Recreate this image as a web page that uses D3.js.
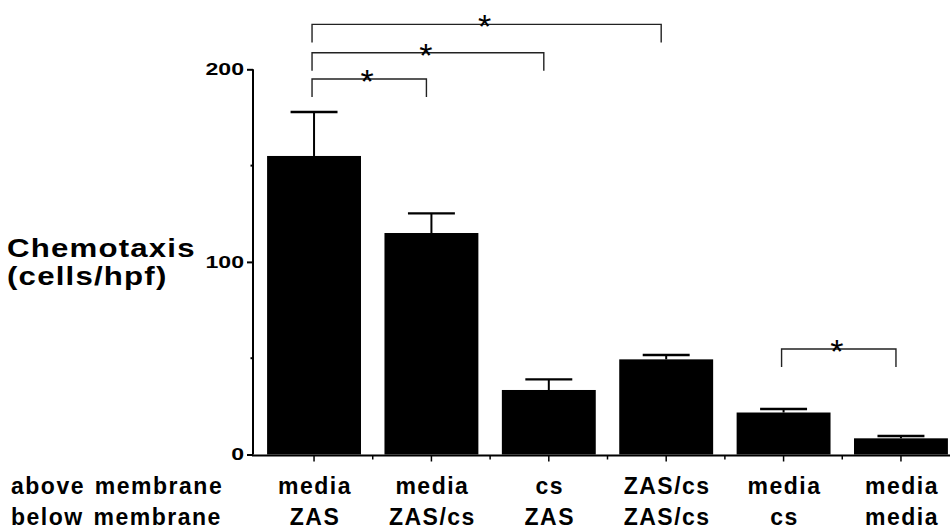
<!DOCTYPE html>
<html>
<head>
<meta charset="utf-8">
<script src="https://cdn.jsdelivr.net/npm/d3@7/dist/d3.min.js"></script>
<style>
  html, body { margin: 0; padding: 0; background: #fff; }
  svg { display: block; }
  text { font-family: "Liberation Sans", Arial, sans-serif; }
</style>
</head>
<body>
<svg id="chart" width="950" height="532"></svg>
<script>
// ---- data ----
const aboveMembrane = ["media", "media", "cs", "ZAS/cs", "media", "media"];
const belowMembrane = ["ZAS", "ZAS/cs", "ZAS", "ZAS/cs", "cs", "media"];
const chemotaxis = [155, 115, 33.5, 49.4, 21.8, 8.4];
const errorTop = [177.8, 125.2, 39, 51.7, 23.6, 9.6];
const yTicks = [0, 100, 200];
const yMinorTicks = [50, 150];
const brackets = [
  { from: 0, to: 1, level: 195 },
  { from: 0, to: 2, level: 208.6 },
  { from: 0, to: 3, level: 223.3 },
  { from: 4, to: 5, level: 54.8 }
];
const rowLabels = ["above membrane", "below membrane"];
const yTitle = ["Chemotaxis", "(cells/hpf)"];

// ---- layout ----
const svg = d3.select("#chart");
const axisX = 253;
const x = d3.scaleBand()
  .domain(d3.range(chemotaxis.length))
  .range([axisX, 962])
  .paddingInner(0.2)
  .paddingOuter(0.12);
const y = d3.scaleLinear().domain([0, 200]).range([454.5, 69.3]);
const cx = i => x(i) + x.bandwidth() / 2;

// bars
svg.append("g").selectAll("rect")
  .data(chemotaxis)
  .join("rect")
  .attr("x", (d, i) => x(i))
  .attr("y", d => y(d))
  .attr("width", x.bandwidth())
  .attr("height", d => y(0) - y(d))
  .attr("fill", "#000");

// error bars
const eb = svg.append("g").attr("stroke", "#000");
eb.selectAll("line.stem")
  .data(errorTop)
  .join("line")
  .attr("class", "stem")
  .attr("x1", (d, i) => cx(i)).attr("x2", (d, i) => cx(i))
  .attr("y1", (d, i) => y(chemotaxis[i])).attr("y2", d => y(d))
  .attr("stroke-width", 2);
eb.selectAll("line.cap")
  .data(errorTop)
  .join("line")
  .attr("class", "cap")
  .attr("x1", (d, i) => cx(i) - x.bandwidth() * 0.25)
  .attr("x2", (d, i) => cx(i) + x.bandwidth() * 0.25)
  .attr("y1", d => y(d)).attr("y2", d => y(d))
  .attr("stroke-width", 2.4);

// y axis
const yAxis = d3.axisLeft(y).tickValues(yTicks).tickSize(6).tickFormat("");
const gy = svg.append("g").attr("transform", `translate(${axisX},0)`).call(yAxis);
gy.select(".domain").attr("stroke-width", 2).attr("d", `M0,${y(200)}V${y(0)}`);
gy.selectAll(".tick line").attr("stroke-width", 2);
gy.selectAll(".tick text").remove();
gy.append("g").selectAll("line")
  .data(yMinorTicks)
  .join("line")
  .attr("x1", -2.5).attr("x2", 0)
  .attr("y1", d => y(d)).attr("y2", d => y(d))
  .attr("stroke", "#000").attr("stroke-width", 2);
svg.append("g").selectAll("text")
  .data(yTicks)
  .join("text")
  .attr("transform", d => `translate(${axisX - 9},${y(d)}) scale(1.4,1)`)
  .attr("dy", "0.36em")
  .attr("text-anchor", "end")
  .attr("font-size", 16.5).attr("font-weight", "bold").attr("fill", "#000")
  .text(d => d3.format("d")(d));

// x axis
const gx = svg.append("g");
gx.append("line")
  .attr("x1", axisX - 1).attr("x2", x.range()[1])
  .attr("y1", y(0) + 1).attr("y2", y(0) + 1)
  .attr("stroke", "#000").attr("stroke-width", 2);
gx.selectAll("line.major")
  .data(d3.range(chemotaxis.length))
  .join("line")
  .attr("class", "major")
  .attr("x1", cx).attr("x2", cx)
  .attr("y1", y(0) + 1).attr("y2", y(0) + 7)
  .attr("stroke", "#000").attr("stroke-width", 1.5);
gx.selectAll("line.minor")
  .data(d3.range(1, chemotaxis.length))
  .join("line")
  .attr("class", "minor")
  .attr("x1", i => x(i) - x.step() * x.paddingInner() / 2)
  .attr("x2", i => x(i) - x.step() * x.paddingInner() / 2)
  .attr("y1", y(0) + 1).attr("y2", y(0) + 5)
  .attr("stroke", "#000").attr("stroke-width", 1.5);

// category labels
const labStyle = sel => sel
  .attr("font-size", 23).attr("font-weight", "bold")
  .attr("letter-spacing", 1.5)
  .attr("text-anchor", "middle").attr("fill", "#000");
svg.append("g").selectAll("text")
  .data(aboveMembrane)
  .join("text")
  .attr("x", (d, i) => cx(i) + 1).attr("y", 494)
  .text(d => d).call(labStyle);
svg.append("g").selectAll("text")
  .data(belowMembrane)
  .join("text")
  .attr("x", (d, i) => cx(i) + 1).attr("y", 525)
  .text(d => d).call(labStyle);

// row labels
svg.append("g").selectAll("text")
  .data(rowLabels)
  .join("text")
  .attr("x", 11).attr("y", (d, i) => 494 + i * 31)
  .attr("font-size", 23).attr("font-weight", "bold")
  .attr("letter-spacing", 1.5).attr("word-spacing", 2).attr("fill", "#000")
  .text(d => d);

// y title
svg.append("g").selectAll("text")
  .data(yTitle)
  .join("text")
  .attr("transform", (d, i) => `translate(7,${257 + i * 28}) scale(1.2,1)`)
  .attr("font-size", 26).attr("font-weight", "bold")
  .attr("letter-spacing", 1).attr("fill", "#000")
  .text(d => d);

// significance brackets
const bg = svg.append("g");
brackets.forEach(b => {
  const x1 = cx(b.from) - 2, x2 = cx(b.to) - 5, yl = y(b.level);
  bg.append("path")
    .attr("d", `M${x1},${yl + 18}V${yl}H${x2}V${yl + 18}`)
    .attr("fill", "none").attr("stroke", "#222").attr("stroke-width", 1.4);
  bg.append("text")
    .attr("x", (x1 + x2) / 2 - 2).attr("y", yl + 14)
    .attr("text-anchor", "middle")
    .attr("font-family", "DejaVu Sans, sans-serif")
    .attr("font-weight", 200)
    .attr("font-size", 34).attr("fill", "#000")
    .text("*");
});
</script>
</body>
</html>
